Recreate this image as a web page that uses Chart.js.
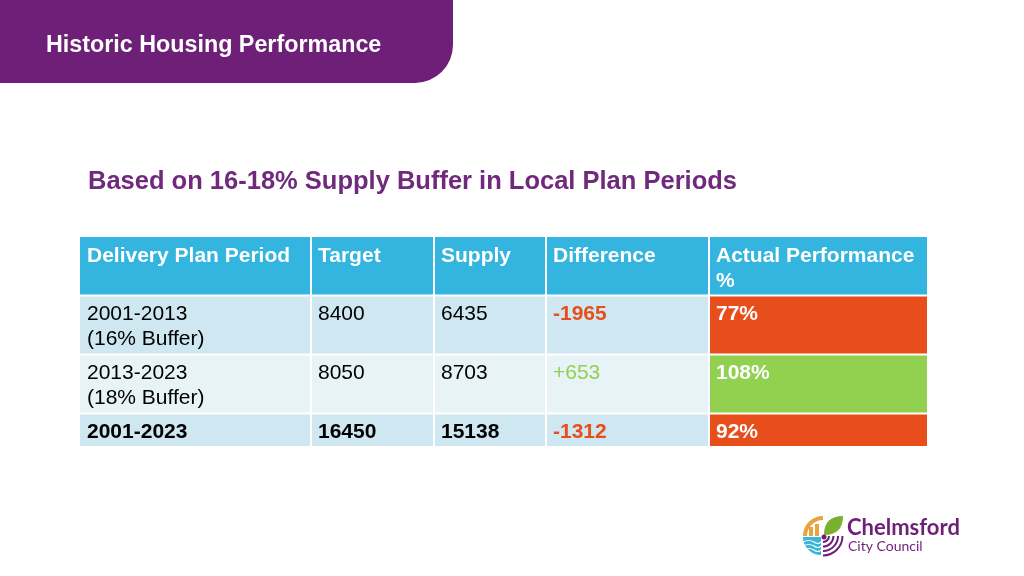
<!DOCTYPE html>
<html>
<head>
<meta charset="utf-8">
<title>Historic Housing Performance</title>
<script src="https://cdn.jsdelivr.net/npm/chart.js@4/dist/chart.umd.min.js"></script>
<style>
  html, body { margin: 0; padding: 0; background: #ffffff; }
  canvas { display: block; }
</style>
</head>
<body>
<canvas id="chart" width="1024" height="576"></canvas>
<script>
// table data
var slideTitle = 'Historic Housing Performance';
var subTitle = 'Based on 16-18% Supply Buffer in Local Plan Periods';
var columns = [['Delivery Plan Period'], ['Target'], ['Supply'], ['Difference'], ['Actual Performance', '%']];
var periods = ['2001-2013', '2013-2023', '2001-2023'];
var buffers = ['(16% Buffer)', '(18% Buffer)', ''];
var targets = [8400, 8050, 16450];
var supply = [6435, 8703, 15138];
var difference = [-1965, 653, -1312];
var performance = [77, 108, 92];

// layout (scale units, the scales run over the whole slide)
var colEdges = [80, 311, 434, 546, 709, 927];
var rowEdges = [237, 295.5, 354.5, 413.5, 446];
var FONT = '"Liberation Sans", Arial, Helvetica, sans-serif';
var purple = '#6e1f78';
var headerBlue = '#33b5df';
var rowColors = ['#cfe7f0', '#e8f3f8', '#cfe7f0'];
var red = '#e84e1b';
var green = '#92d050';

function fmtDiff(v) { return v > 0 ? '+' + v : '' + v; }

var slidePlugin = {
	id: 'slide',
	afterDraw: function(chart) {
		var c = chart.ctx;
		var sx = chart.scales.x, sy = chart.scales.y;
		var X = function(v) { return sx.getPixelForValue(v); };
		var Y = function(v) { return sy.getPixelForValue(v); };
		c.save();

		// title tab
		var r = 38;
		c.fillStyle = purple;
		c.beginPath();
		c.moveTo(X(0), Y(0));
		c.lineTo(X(453), Y(0));
		c.lineTo(X(453), Y(83 - r));
		c.arcTo(X(453), Y(83), X(453 - r), Y(83), r);
		c.lineTo(X(0), Y(83));
		c.closePath();
		c.fill();
		c.fillStyle = '#ffffff';
		c.font = 'bold 23.3px ' + FONT;
		c.textBaseline = 'alphabetic';
		c.fillText(slideTitle, X(46), Y(52));

		c.fillStyle = '#70297d';
		c.font = 'bold 25.5px ' + FONT;
		c.fillText(subTitle, X(88), Y(189));

		// cells
		var nRows = periods.length;
		for (var ri = 0; ri <= nRows; ri++) {
			for (var ci = 0; ci < columns.length; ci++) {
				var x0 = X(colEdges[ci]) + (ci > 0 ? 1 : 0);
				var x1 = X(colEdges[ci + 1]) - (ci < columns.length - 1 ? 1 : 0);
				var y0 = Y(rowEdges[ri]) + (ri > 0 ? 1 : 0);
				var y1 = Y(rowEdges[ri + 1]) - (ri < nRows ? 1 : 0);
				var bg, lines = [], color = '#000000', bold = false;
				if (ri === 0) {
					bg = headerBlue; lines = columns[ci]; color = '#ffffff'; bold = true;
				} else {
					var k = ri - 1;
					var total = (k === nRows - 1);
					bg = rowColors[k];
					bold = total;
					if (ci === 0) lines = buffers[k] ? [periods[k], buffers[k]] : [periods[k]];
					if (ci === 1) lines = ['' + targets[k]];
					if (ci === 2) lines = ['' + supply[k]];
					if (ci === 3) {
						lines = [fmtDiff(difference[k])];
						color = difference[k] < 0 ? red : green;
						bold = difference[k] < 0;
					}
					if (ci === 4) {
						lines = [performance[k] + '%'];
						bg = performance[k] < 100 ? red : green;
						color = '#ffffff';
						bold = true;
					}
				}
				c.fillStyle = bg;
				c.fillRect(x0, y0, x1 - x0, y1 - y0);
				c.fillStyle = color;
				c.font = (bold ? 'bold ' : '') + '21px ' + FONT;
				for (var li = 0; li < lines.length; li++) {
					c.fillText(lines[li], X(colEdges[ci] + 7), Y(rowEdges[ri] + 24.5 + li * 25));
				}
			}
		}

		// council logo
		var cx = X(823), cy = Y(536);
		c.lineCap = 'butt';
		// sun arcs (top left)
		c.strokeStyle = '#e8a33d';
		c.lineWidth = 4;
		c.beginPath(); c.arc(cx, cy, 18, Math.PI, Math.PI * 1.5); c.stroke();
		c.fillStyle = '#e8a33d';
		c.fillRect(cx - 14, cy - 9, 4, 9);
		c.fillRect(cx - 8, cy - 12, 4, 12);
		// leaf (top right)
		c.fillStyle = '#7ab030';
		c.beginPath();
		c.moveTo(cx + 1, cy - 1);
		c.quadraticCurveTo(cx + 1, cy - 20, cx + 20, cy - 20);
		c.quadraticCurveTo(cx + 20, cy - 1, cx + 1, cy - 1);
		c.fill();
		// water (bottom left)
		c.fillStyle = '#3bb5d8';
		c.beginPath();
		c.moveTo(cx - 2, cy + 1);
		c.lineTo(cx - 20, cy + 1);
		c.arc(cx - 2, cy + 1, 18, Math.PI, Math.PI * 0.5, true);
		c.closePath();
		c.fill();
		c.strokeStyle = '#ffffff';
		c.lineWidth = 1.2;
		for (var w = 0; w < 3; w++) {
			c.beginPath();
			c.moveTo(cx - 20, cy + 6 + w * 4);
			c.quadraticCurveTo(cx - 14, cy + 3 + w * 4, cx - 9, cy + 6 + w * 4);
			c.quadraticCurveTo(cx - 5, cy + 9 + w * 4, cx - 2, cy + 6 + w * 4);
			c.stroke();
		}
		// purple arcs (bottom right)
		c.strokeStyle = purple;
		c.lineWidth = 2;
		for (var a = 0; a < 4; a++) {
			c.beginPath(); c.arc(cx, cy, 6 + a * 4.5, 0, Math.PI * 0.5); c.stroke();
		}
		c.fillStyle = purple;
		c.beginPath(); c.arc(cx + 1, cy + 1, 2.5, 0, Math.PI * 2); c.fill();

		c.fillStyle = purple;
		c.font = 'bold 22px Lato, "Open Sans", sans-serif';
		c.fillText('Chelmsford', X(847), Y(535));
		c.font = '14px Lato, "Open Sans", sans-serif';
		c.fillText('City Council', X(848), Y(551));

		c.restore();
	}
};

var chart = new Chart(document.getElementById('chart'), {
	type: 'scatter',
	data: { datasets: [] },
	options: {
		responsive: false,
		animation: false,
		events: [],
		layout: { padding: 0 },
		plugins: { legend: { display: false }, tooltip: { enabled: false } },
		scales: {
			x: { type: 'linear', min: 0, max: 1024, display: false },
			y: { type: 'linear', min: 0, max: 576, reverse: true, display: false }
		}
	},
	plugins: [slidePlugin]
});
</script>
</body>
</html>
